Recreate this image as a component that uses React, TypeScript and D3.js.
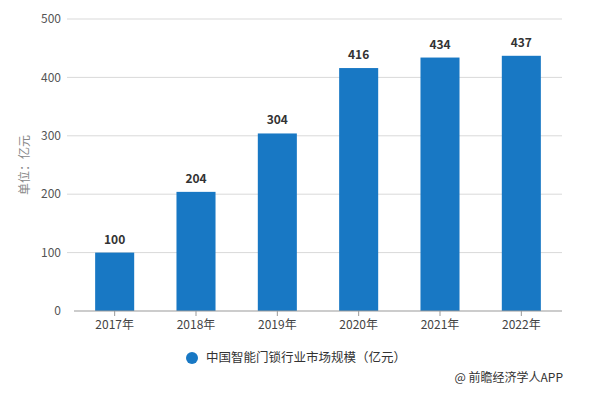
import React from "react";
import * as d3 from "d3";

const categories = ["2017年", "2018年", "2019年", "2020年", "2021年", "2022年"];
const values = [100, 204, 304, 416, 434, 437];
const yTicks = [0, 100, 200, 300, 400, 500];
const seriesName = "中国智能门锁行业市场规模（亿元）";
const yTitle = "单位：亿元";
const source = "@ 前瞻经济学人APP";

const W = 590, H = 396;
const m = { left: 74, right: 28, top: 19, bottom: 85 };

export default function App() {
  const x = d3.scaleBand().domain(categories).range([m.left, W - m.right]).paddingInner(0.52).paddingOuter(0.26);
  const y = d3.scaleLinear().domain([0, 500]).range([H - m.bottom, m.top]);
  const font = "'Microsoft YaHei','Noto Sans CJK SC','Noto Sans',sans-serif";
  const band = d3.scaleBand().domain(categories).range([m.left, W - m.right]);
  return (
    <svg width={W} height={H} style={{ position: "absolute", left: 0, top: 0, background: "#fff" }} fontFamily={font}>
      {yTicks.map(t => (
        <g key={t}>
          {t > 0 && <line x1={67} x2={W - m.right} y1={y(t)} y2={y(t)} stroke="#d9d9d9" strokeWidth={1} />}
          <text x={61} y={y(t)} dy="0.35em" textAnchor="end" fontSize={12} fill="#555">{t}</text>
        </g>
      ))}
      <text transform={`translate(29,${(y(0) + y(500)) / 2}) rotate(-90)`} textAnchor="middle" fontSize={12} fill="#888">{yTitle}</text>
      {categories.map((c, i) => (
        <g key={c}>
          <rect x={x(c)} y={y(values[i])} width={x.bandwidth()} height={y(0) - y(values[i])} fill="#1878c4" />
          <text x={x(c)! + x.bandwidth() / 2} y={y(values[i]) - 9} textAnchor="middle" fontSize={12} fontWeight="bold" fill="#333">{values[i]}</text>
          <line x1={band(c)! + band.bandwidth() / 2} x2={band(c)! + band.bandwidth() / 2} y1={y(0)} y2={y(0) + 5} stroke="#999" />
          <text x={band(c)! + band.bandwidth() / 2} y={y(0) + 18} textAnchor="middle" fontSize={12} fill="#444">{c}</text>
        </g>
      ))}
      <line x1={m.left} x2={W - m.right} y1={y(0)} y2={y(0)} stroke="#999" />
      <circle cx={192} cy={358} r={6} fill="#1878c4" />
      <text x={206} y={358} dy="0.35em" fontSize={12.5} fill="#333">{seriesName}</text>
      <text x={563} y={378} dy="0.35em" textAnchor="end" fontSize={12} fill="#333">{source}</text>
    </svg>
  );
}
